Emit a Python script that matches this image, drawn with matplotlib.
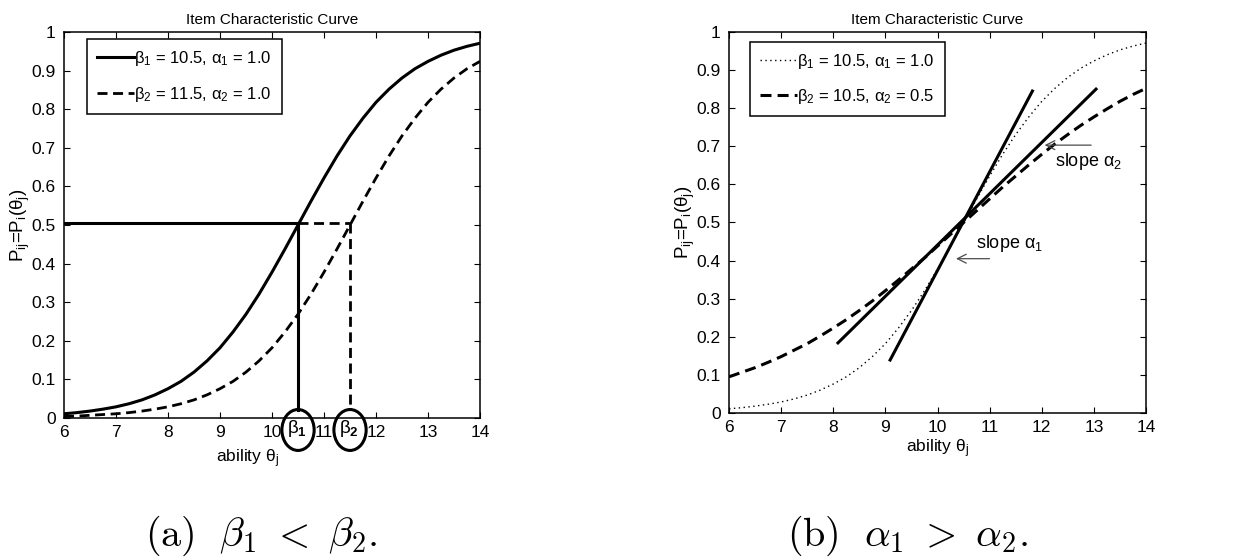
import matplotlib.pyplot as plt
from matplotlib.patches import Ellipse

plt.rcParams['font.family'] = ['Liberation Sans', 'DejaVu Sans']
plt.rcParams['mathtext.fontset'] = 'custom'
plt.rcParams['mathtext.rm'] = 'Liberation Sans'
plt.rcParams['mathtext.it'] = 'Liberation Sans:italic'
plt.rcParams['mathtext.bf'] = 'Liberation Sans:bold'

# ability values and probabilities
theta = [6.0, 6.25, 6.5, 6.75, 7.0, 7.25, 7.5, 7.75, 8.0, 8.25, 8.5, 8.75,
         9.0, 9.25, 9.5, 9.75, 10.0, 10.25, 10.5, 10.75, 11.0, 11.25, 11.5, 11.75,
         12.0, 12.25, 12.5, 12.75, 13.0, 13.25, 13.5, 13.75, 14.0]
p_beta1 = [0.011, 0.014, 0.018, 0.023, 0.029, 0.037, 0.047, 0.060, 0.076, 0.095, 0.119, 0.148,
           0.182, 0.223, 0.269, 0.321, 0.378, 0.438, 0.500, 0.562, 0.622, 0.679, 0.731, 0.777,
           0.818, 0.852, 0.881, 0.905, 0.924, 0.940, 0.953, 0.963, 0.971]
p_beta2 = [0.004, 0.005, 0.007, 0.009, 0.011, 0.014, 0.018, 0.023, 0.029, 0.037, 0.047, 0.060,
           0.076, 0.095, 0.119, 0.148, 0.182, 0.223, 0.269, 0.321, 0.378, 0.438, 0.500, 0.562,
           0.622, 0.679, 0.731, 0.777, 0.818, 0.852, 0.881, 0.905, 0.924]
p_alpha2 = [0.095, 0.107, 0.119, 0.133, 0.148, 0.165, 0.182, 0.202, 0.223, 0.245, 0.269, 0.294,
            0.321, 0.349, 0.378, 0.407, 0.438, 0.469, 0.500, 0.531, 0.562, 0.593, 0.622, 0.651,
            0.679, 0.706, 0.731, 0.755, 0.777, 0.798, 0.818, 0.836, 0.852]

betas = [10.5, 11.5]
half = 0.505

# tangent lines (end points)
tan1_x = [9.09, 11.82]
tan1_y = [0.139, 0.845]
tan2_x = [8.09, 13.04]
tan2_y = [0.184, 0.850]

yticks = [0, 0.1, 0.2, 0.3, 0.4, 0.5, 0.6, 0.7, 0.8, 0.9, 1]
ytlabels = ['0', '0.1', '0.2', '0.3', '0.4', '0.5', '0.6', '0.7', '0.8', '0.9', '1']
xticks = [6, 7, 8, 9, 10, 11, 12, 13, 14]

dash = (0, (3.6, 2.0))

fig = plt.figure(figsize=(12.55, 5.59), dpi=100)
ax1 = fig.add_axes([0.051, 0.2522, 0.3315, 0.6905])
ax2 = fig.add_axes([0.5809, 0.2612, 0.3323, 0.6816])

for ax in (ax1, ax2):
    ax.set_xlim(6, 14)
    ax.set_ylim(0, 1)
    ax.set_xticks(xticks)
    ax.set_yticks(yticks)
    ax.set_yticklabels(ytlabels)
    ax.tick_params(direction='in', top=True, right=True, length=4, width=0.8,
                   labelsize=12.5)
    ax.tick_params(axis='y', pad=6)
    ax.tick_params(axis='x', pad=5)
    for s in ax.spines.values():
        s.set_linewidth(1.1)
    ax.set_title('Item Characteristic Curve', fontsize=11, pad=6)
    ax.set_xlabel(r'ability $\mathregular{\theta_j}$', fontsize=12.5, labelpad=2)
    ax.set_ylabel(r'$\mathregular{P_{ij}}$=$\mathregular{P_i(\theta_j)}$', fontsize=13.5)
    ax.yaxis.set_label_coords(-0.077, 0.5)

# (a)
ax1.plot(theta, p_beta1, color='black', lw=2.2,
         label=r'$\mathregular{\beta_1}$ = 10.5, $\mathregular{\alpha_1}$ = 1.0')
ax1.plot(theta, p_beta2, color='black', lw=2, linestyle=dash,
         label=r'$\mathregular{\beta_2}$ = 11.5, $\mathregular{\alpha_2}$ = 1.0')
ax1.plot([6, betas[0]], [half, half], color='black', lw=2.2)
ax1.plot([betas[0], betas[0]], [half, 0.02], color='black', lw=2.2)
ax1.plot([betas[0], betas[1]], [half, half], color='black', lw=2, linestyle=dash)
ax1.plot([betas[1], betas[1]], [half, 0.02], color='black', lw=2, linestyle=dash)
ax1.legend(loc='upper left', bbox_to_anchor=(0.055, 0.982), fontsize=12,
           frameon=True, fancybox=False, edgecolor='black', framealpha=1,
           handlelength=2.2, handletextpad=0.05, labelspacing=1.0, borderpad=0.6,
           borderaxespad=0)
ax1.get_legend().get_frame().set_linewidth(1.1)
ax1.xaxis.set_label_coords(0.442, -0.075)

for b, lab in zip(betas, [r'$\mathregular{\beta}_\mathbf{1}$', r'$\mathregular{\beta}_\mathbf{2}$']):
    ax1.add_patch(Ellipse((b, -0.031), 0.62, 0.106, fill=False, lw=2.2,
                          edgecolor='black', clip_on=False, zorder=5))
    ax1.text(b - 0.02, -0.026, lab, ha='center', va='center', fontsize=13.5,
             clip_on=False)

# (b)
ax2.plot(theta, p_beta1, color='black', lw=1, linestyle=(0, (1, 2.5)),
         label=r'$\mathregular{\beta_1}$ = 10.5, $\mathregular{\alpha_1}$ = 1.0')
ax2.plot(theta, p_alpha2, color='black', lw=2.2, linestyle=dash,
         label=r'$\mathregular{\beta_2}$ = 10.5, $\mathregular{\alpha_2}$ = 0.5')
ax2.plot(tan1_x, tan1_y, color='black', lw=2.2)
ax2.plot(tan2_x, tan2_y, color='black', lw=2.2)
ax2.legend(loc='upper left', bbox_to_anchor=(0.05, 0.975), fontsize=12,
           frameon=True, fancybox=False, edgecolor='black', framealpha=1,
           handlelength=2.2, handletextpad=0.05, labelspacing=1.0, borderpad=0.6,
           borderaxespad=0)
ax2.get_legend().get_frame().set_linewidth(1.1)

ax2.annotate('', xy=(12.0, 0.703), xytext=(13.0, 0.703),
             arrowprops=dict(arrowstyle='->', lw=0.9, color='0.3', mutation_scale=16))
ax2.text(12.25, 0.66, r'slope $\mathregular{\alpha_2}$', fontsize=13, va='center')
ax2.annotate('', xy=(10.3, 0.405), xytext=(11.05, 0.405),
             arrowprops=dict(arrowstyle='->', lw=0.9, color='0.3', mutation_scale=16))
ax2.text(10.74, 0.445, r'slope $\mathregular{\alpha_1}$', fontsize=13, va='center')

# captions
fig.text(261 / 1255, 13 / 559, r'$\mathrm{(a)}\ \ \beta_1\ <\ \beta_2.$', ha='center',
         va='baseline', fontsize=29, math_fontfamily='cm')
fig.text(907 / 1255, 13 / 559, r'$\mathrm{(b)}\ \ \alpha_1\ >\ \alpha_2.$', ha='center',
         va='baseline', fontsize=29, math_fontfamily='cm')

fig.savefig('out.png', dpi=100)
